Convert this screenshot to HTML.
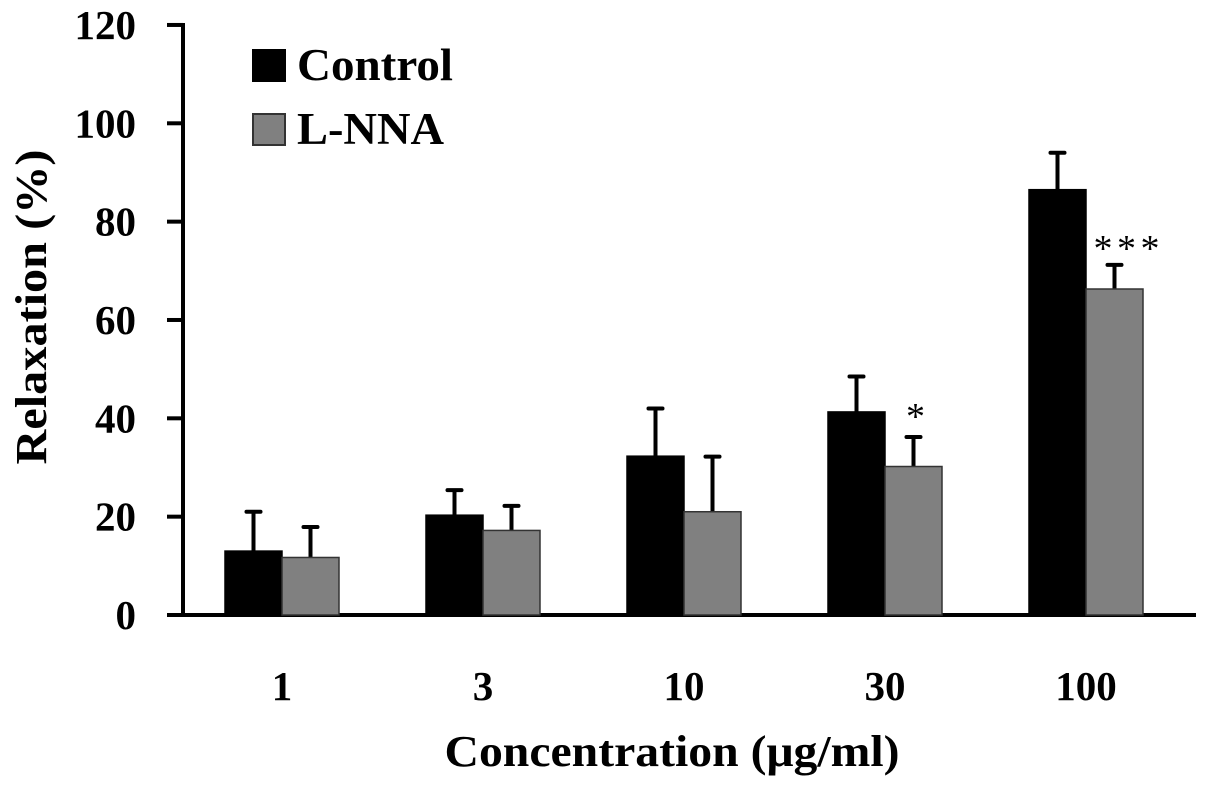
<!DOCTYPE html>
<html><head><meta charset="utf-8"><style>
html,body{margin:0;padding:0;background:#fff;}
svg text{font-family:"Liberation Serif",serif;font-weight:bold;fill:#000;}
</style></head><body>
<svg id="chart" width="1205" height="790" xmlns="http://www.w3.org/2000/svg">
<g id="axes"></g><g id="bars"></g>
<g>
<rect x="252" y="49" width="34" height="33" fill="#000"/>
<text x="297" y="80" font-size="45" textLength="156" lengthAdjust="spacingAndGlyphs">Control</text>
<rect x="253" y="114" width="32" height="31" fill="#808080" stroke="#333" stroke-width="2"/>
<text x="297" y="144" font-size="45" textLength="147" lengthAdjust="spacingAndGlyphs">L-NNA</text>
</g>
<text transform="translate(46,307) rotate(-90)" text-anchor="middle" font-size="44" textLength="315" lengthAdjust="spacingAndGlyphs">Relaxation (%)</text>
<text x="672" y="766" text-anchor="middle" font-size="44" textLength="455" lengthAdjust="spacingAndGlyphs">Concentration (μg/ml)</text>
</svg>
<script>
const categories=["1","3","10","30","100"];
const controlValues=[13,20.3,32.3,41.3,86.5];
const controlErrors=[8,5.1,9.7,7.2,7.5];
const lnnaValues=[11.7,17.2,21,30.2,66.3];
const lnnaErrors=[6.2,5,11.2,6,4.9];
const significance=["","","","*","* * *"];
const yTicks=[0,20,40,60,80,100,120];
const NS="http://www.w3.org/2000/svg";
const y0=615,ppu=4.917,axX=183,groupStart=282,groupStep=201,barW=57;
const yS=v=>y0-v*ppu;
const xS=i=>groupStart+i*groupStep;
function mk(tag,attrs,parent){const e=document.createElementNS(NS,tag);for(const k in attrs)e.setAttribute(k,attrs[k]);parent.appendChild(e);return e;}
const axes=document.getElementById('axes'),bars=document.getElementById('bars');
let l=mk('line',{x1:axX,y1:yS(120)-2,x2:axX,y2:y0+2,stroke:'#000','stroke-width':4},axes);


l=mk('line',{x1:167,y1:y0,x2:1196,y2:y0,stroke:'#000','stroke-width':4},axes);


yTicks.forEach(t=>{
 const tk=mk('line',{x1:167,y1:yS(t),x2:axX,y2:yS(t),stroke:'#000','stroke-width':4},axes);
 
 
 const tx=mk('text',{x:136,y:yS(t)+14,'text-anchor':'end','font-size':41},axes);
 tx.textContent=t;
 
 
});
categories.forEach((c,i)=>{
 const cx=xS(i);
 const tx=mk('text',{x:cx,y:700,'text-anchor':'middle','font-size':41},axes);
 tx.textContent=c;
 
 
 [[controlValues,controlErrors,cx-barW,'#000','control'],[lnnaValues,lnnaErrors,cx,'#808080','lnna']].forEach(([vals,errs,x,fill,nm])=>{
  const v=vals[i],e=errs[i],bc=x+barW/2;
  const eb=mk('line',{x1:bc,y1:yS(v),x2:bc,y2:yS(v+e),stroke:'#000','stroke-width':4},bars);
  
  
  const cap=mk('line',{x1:bc-7,y1:yS(v+e),x2:bc+7,y2:yS(v+e),stroke:'#000','stroke-width':4,'stroke-linecap':'round'},bars);
  
  
  const r=mk('rect',{x:x,y:yS(v),width:barW,height:y0-yS(v),fill:fill,stroke:nm==='lnna'?'#333':'#000','stroke-width':1.5},bars);
  
  
 });
 if(significance[i]){
  const attrs={x:cx+barW/2+2,y:yS(lnnaValues[i]+lnnaErrors[i])-8,'text-anchor':'middle','font-size':38};
  if(significance[i].length>1){attrs.textLength=66;attrs.lengthAdjust='spacing';attrs.x=cx+barW/2+12;attrs.y=yS(lnnaValues[i]+lnnaErrors[i])-4;}
  const s=mk('text',attrs,bars);
  s.style.fontWeight='normal';
  s.textContent=significance[i];
  
  
 }
});
</script>
</body></html>
